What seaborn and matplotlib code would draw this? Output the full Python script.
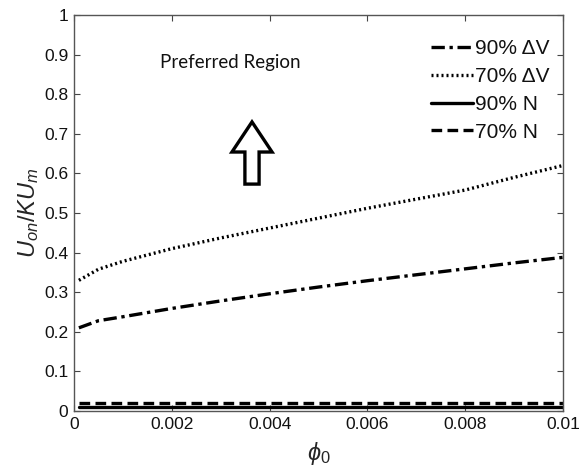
import numpy as np
import pandas as pd
import matplotlib
matplotlib.use("Agg")
import matplotlib.pyplot as plt
from matplotlib.patches import FancyArrow
import seaborn as sns

# Flow parameter phi_0 and the normalised onset velocity for each criterion
phi0 = [0.0001, 0.0005, 0.001, 0.002, 0.003, 0.004, 0.005, 0.006, 0.007, 0.008, 0.009, 0.01]
dv90 = [0.210, 0.228, 0.238, 0.259, 0.278, 0.296, 0.313, 0.329, 0.344, 0.359, 0.374, 0.388]
dv70 = [0.330, 0.358, 0.378, 0.410, 0.437, 0.462, 0.487, 0.512, 0.535, 0.558, 0.590, 0.620]
n90 = [0.010] * len(phi0)
n70 = [0.020] * len(phi0)

labels = ["90% \u0394V", "70% \u0394V", "90% N", "70% N"]
x_ticks = [0, 0.002, 0.004, 0.006, 0.008, 0.01]
x_tick_labels = ["0", "0.002", "0.004", "0.006", "0.008", "0.01"]
y_ticks = [0, 0.1, 0.2, 0.3, 0.4, 0.5, 0.6, 0.7, 0.8, 0.9, 1]
y_tick_labels = ["0", "0.1", "0.2", "0.3", "0.4", "0.5", "0.6", "0.7", "0.8", "0.9", "1"]

sns.set_theme(style="white")
plt.rcParams["font.family"] = ["Liberation Sans", "DejaVu Sans"]
plt.rcParams["mathtext.fontset"] = "custom"
plt.rcParams["mathtext.it"] = "Liberation Sans:italic"
plt.rcParams["mathtext.rm"] = "Liberation Sans"

W, H = 579, 470
fig = plt.figure(figsize=(W / 100, H / 100), dpi=100)
ax = fig.add_axes([74 / W, 1 - 411 / H, 489 / W, 396 / H])

styles = [(0, (4, 1.4, 1, 1.4)), (0, (0.6, 0.9)), "-", (0, (3.2, 1.6))]
series = [dv90, dv70, n90, n70]
for vals, lab, ls in zip(series, labels, styles):
    sns.lineplot(x=phi0, y=vals, ax=ax, color="black", linewidth=2.4,
                 linestyle=ls, label=lab)

ax.set_xlim(0, 0.01)
ax.set_ylim(0, 1)
ax.set_xticks(x_ticks)
ax.set_xticklabels(x_tick_labels)
ax.set_yticks(y_ticks)
ax.set_yticklabels(y_tick_labels)
ax.tick_params(axis="both", direction="in", length=4, width=0.8, labelsize=12.5,
               color="#444444", labelcolor="#111111", pad=4,
               top=True, right=True, bottom=True, left=True)
for s in ax.spines.values():
    s.set_color("#555555")
    s.set_linewidth(1.0)

ax.set_xlabel(r"$\phi_\mathit{0}$", fontsize=17, labelpad=6)
ax.set_ylabel(r"$U_{on}/KU_m$", fontsize=17, labelpad=2)

leg = ax.legend(loc="upper right", frameon=False, fontsize=15, handlelength=2.0,
                handletextpad=0.12, labelspacing=0.42, borderaxespad=0,
                bbox_to_anchor=((558 - 74) / 489, 1 - (31 - 15) / 396))
for t in leg.get_texts():
    t.set_color("#111111")

ax.text(0.00319, 0.879, "Preferred Region", fontsize=13.5, ha="center", va="center",
        family=["Lato", "DejaVu Sans"], color="#111111")

arrow = FancyArrow(0.00364, 0.573, 0, 0.157, width=0.00029, head_width=0.00082,
                   head_length=0.076, length_includes_head=True,
                   facecolor="white", edgecolor="black", linewidth=2.4)
ax.add_patch(arrow)

fig.savefig("out.png", dpi=100)
